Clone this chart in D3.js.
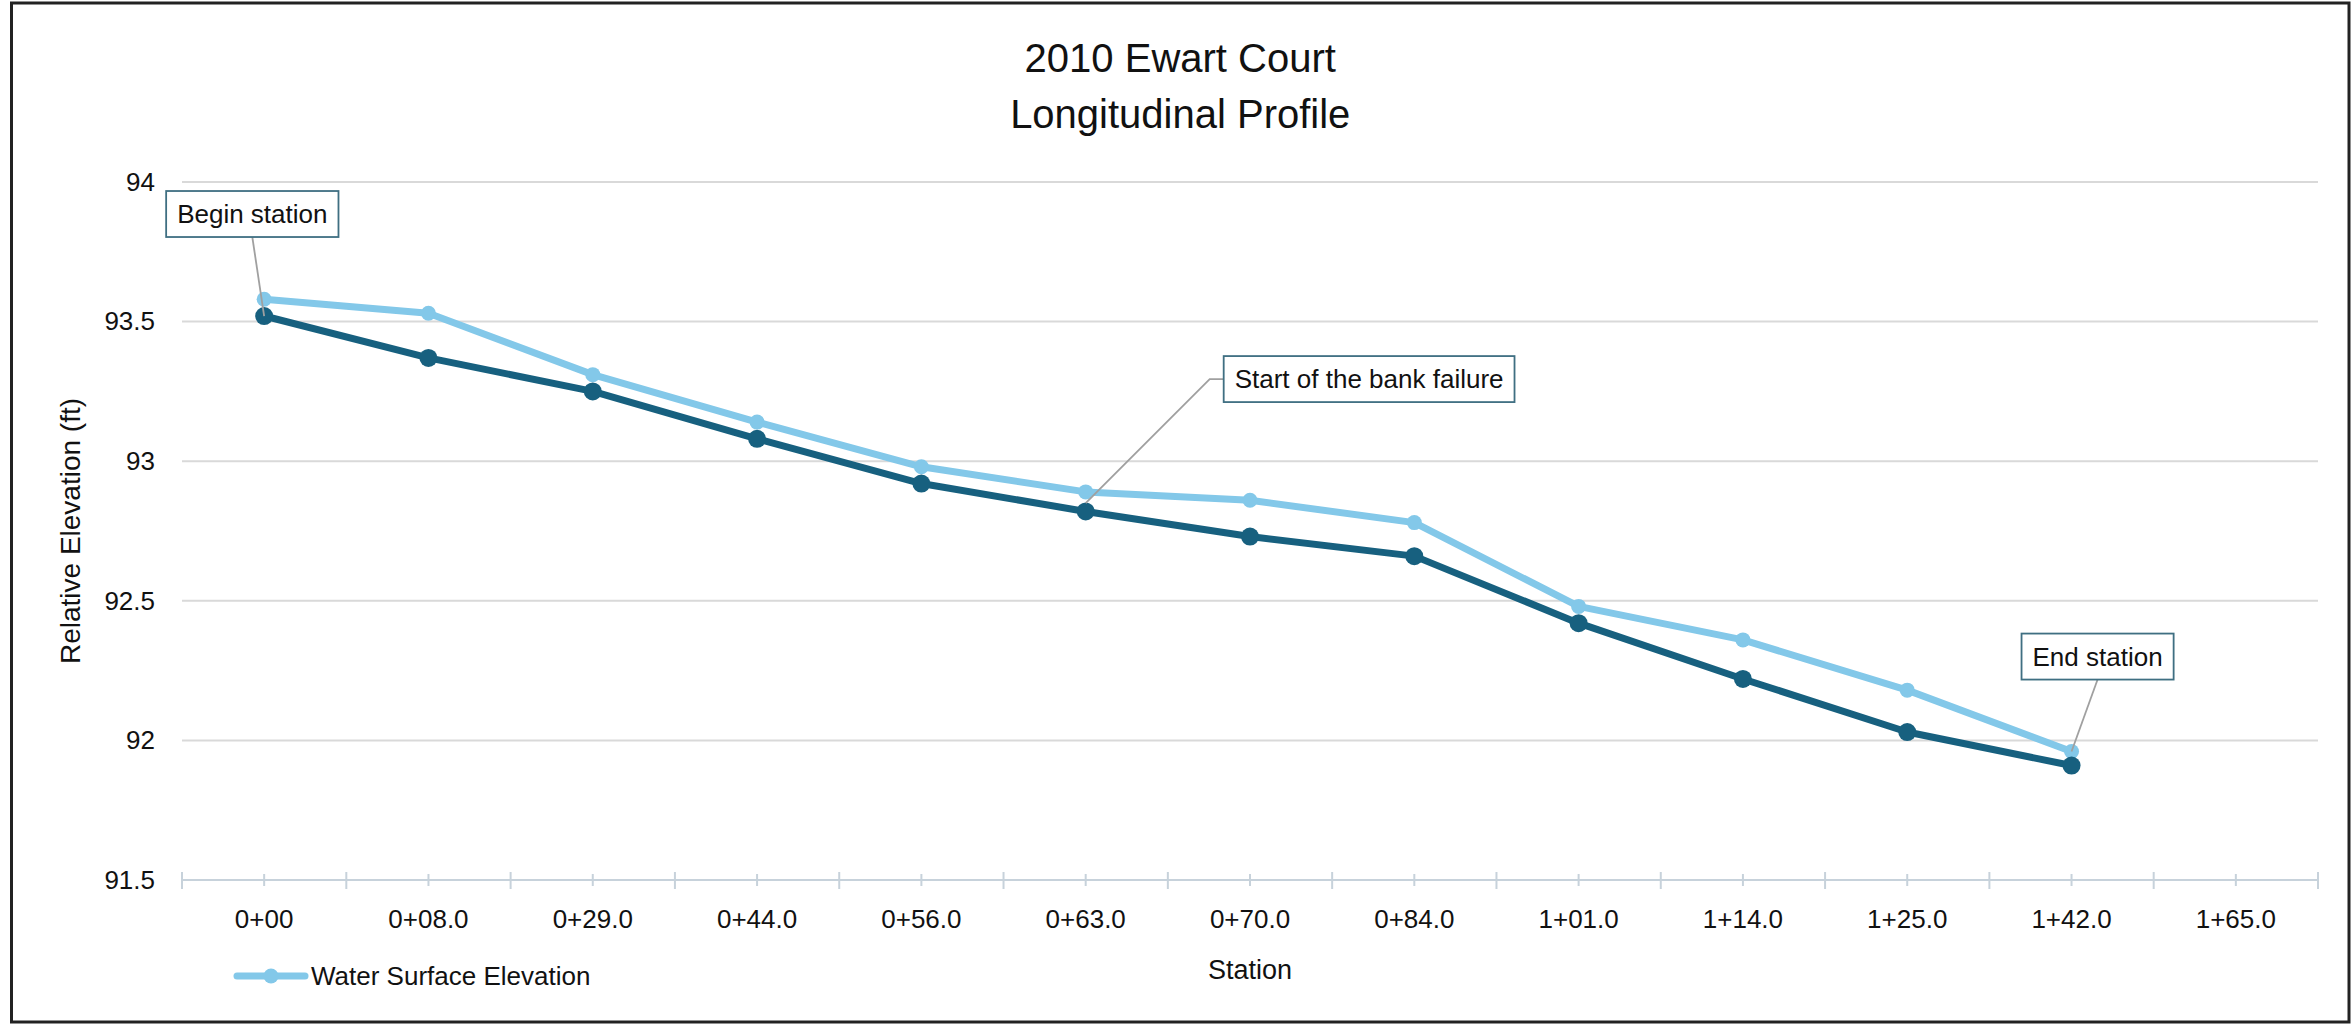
<!DOCTYPE html>
<html><head><meta charset="utf-8">
<script src="https://cdn.jsdelivr.net/npm/d3@7"></script>
<style>
body{margin:0;background:#fff}
svg{display:block}
text{font-family:"Liberation Sans",Arial,Helvetica,sans-serif;fill:#111}
</style>
</head><body>
<svg id="chart" width="2351" height="1026"></svg>
<script>
// ---- data ----
const stations = ["0+00","0+08.0","0+29.0","0+44.0","0+56.0","0+63.0","0+70.0","0+84.0","1+01.0","1+14.0","1+25.0","1+42.0","1+65.0"];
const waterSurface = [93.58,93.53,93.31,93.14,92.98,92.89,92.86,92.78,92.48,92.36,92.18,91.96];
const bedElevation = [93.52,93.37,93.25,93.08,92.92,92.82,92.73,92.66,92.42,92.22,92.03,91.91];
const yTicks = [91.5,92,92.5,93,93.5,94];
const titleLines = ["2010 Ewart Court","Longitudinal Profile"];
const xTitle = "Station";
const yTitle = "Relative Elevation (ft)";
const legendLabel = "Water Surface Elevation";
const annotationTexts = ["Begin station","Start of the bank failure","End station"];
const annotationStations = ["0+00","0+63.0","1+42.0"];
const annotationValues = [93.52,92.85,91.96];

// ---- layout ----
const W = 2351, H = 1026;
const frame = {left:11.5, top:3, right:2349, bottom:1022};
const plot = {left:182, right:2318, top:182, bottom:880};
const lightColor = "#83c8e9", darkColor = "#17607f";
const axisColor = "#c7d2db", gridColor = "#d9d9d9";

const svg = d3.select("#chart");
svg.append("rect").attr("x",0).attr("y",0).attr("width",W).attr("height",H).attr("fill","#fff");
// outer frame
svg.append("rect").attr("x",frame.left).attr("y",frame.top)
  .attr("width",frame.right-frame.left).attr("height",frame.bottom-frame.top)
  .attr("fill","none").attr("stroke","#222").attr("stroke-width",3);

const x = d3.scaleBand().domain(stations).range([plot.left, plot.right]).padding(0);
const y = d3.scaleLinear().domain([91.5,94]).range([plot.bottom, plot.top]);
const cx = s => x(s) + x.bandwidth()/2;

// title (centred on the chart area)
svg.append("g").selectAll("text").data(titleLines).join("text")
  .attr("x",(frame.left+frame.right)/2).attr("y",(d,i)=>72+i*56)
  .attr("text-anchor","middle").attr("font-size",40).text(d=>d);

// gridlines
svg.append("g").selectAll("line").data(yTicks.filter(t=>t>91.5)).join("line")
  .attr("x1",plot.left).attr("x2",plot.right)
  .attr("y1",d=>y(d)).attr("y2",d=>y(d))
  .attr("stroke",gridColor).attr("stroke-width",2);

// y axis labels
const yAxis = d3.axisLeft(y).tickValues(yTicks).tickSize(0).tickPadding(0).tickFormat(d=>d3.format("")(d));
const gy = svg.append("g").attr("transform",`translate(155,0)`).call(yAxis);
gy.select(".domain").remove();
gy.selectAll("text").attr("font-size",26).attr("fill","#111").attr("font-family","Liberation Sans, Arial, sans-serif");

// x axis line & ticks
svg.append("line").attr("x1",plot.left).attr("x2",plot.right).attr("y1",plot.bottom).attr("y2",plot.bottom)
  .attr("stroke",axisColor).attr("stroke-width",2);
const boundaries = stations.map(s=>x(s)).concat([plot.right]);
svg.append("g").selectAll("line").data(boundaries).join("line")
  .attr("x1",d=>d).attr("x2",d=>d).attr("y1",plot.bottom-8).attr("y2",plot.bottom+9)
  .attr("stroke",axisColor).attr("stroke-width",2);
svg.append("g").selectAll("line").data(stations).join("line")
  .attr("x1",d=>cx(d)).attr("x2",d=>cx(d)).attr("y1",plot.bottom-6).attr("y2",plot.bottom+6)
  .attr("stroke",axisColor).attr("stroke-width",2);
const xAxis = d3.axisBottom(x).tickSize(0).tickPadding(0);
const gx = svg.append("g").attr("transform",`translate(0,${plot.bottom})`).call(xAxis);
gx.select(".domain").remove();
gx.selectAll("text").attr("font-size",26).attr("fill","#111").attr("dy",0).attr("y",48)
  .attr("font-family","Liberation Sans, Arial, sans-serif");

// axis titles
svg.append("text").attr("x",(plot.left+plot.right)/2).attr("y",979).attr("text-anchor","middle")
  .attr("font-size",27).text(xTitle);
svg.append("text").attr("transform",`translate(80,${(plot.top+plot.bottom)/2}) rotate(-90)`)
  .attr("text-anchor","middle").attr("font-size",28).text(yTitle);

// series
const line = d3.line().x((d,i)=>cx(stations[i])).y(d=>y(d));
function drawSeries(vals,color,r){
  svg.append("path").datum(vals).attr("d",line).attr("fill","none")
    .attr("stroke",color).attr("stroke-width",7).attr("stroke-linejoin","round").attr("stroke-linecap","round");
  svg.append("g").selectAll("circle").data(vals).join("circle")
    .attr("cx",(d,i)=>cx(stations[i])).attr("cy",d=>y(d)).attr("r",r).attr("fill",color);
}
drawSeries(waterSurface,lightColor,7.5);
drawSeries(bedElevation,darkColor,9);

// annotations
const boxOffsets = [{dx:-98,dy:-125,leader:"bottom"},{dx:138,dy:-147,leader:"left"},{dx:-50,dy:-118,leader:"bottom"}];
annotationTexts.forEach((t,i)=>{
  const ax = cx(annotationStations[i]), ay = y(annotationValues[i]);
  const o = boxOffsets[i];
  const g = svg.append("g");
  const txt = g.append("text").attr("font-size",26).text(t);
  const tw = txt.node().getComputedTextLength();
  const bw = tw + 22, bh = 46;
  const bx = ax + o.dx, by = ay + o.dy;
  if(o.leader==="bottom"){
    g.insert("line","text").attr("x1",bx+bw/2).attr("y1",by+bh).attr("x2",ax).attr("y2",ay)
      .attr("stroke","#a0a0a0").attr("stroke-width",1.8);
  } else {
    g.insert("polyline","text").attr("points",`${bx},${by+bh/2} ${bx-14},${by+bh/2} ${ax},${ay}`)
      .attr("fill","none").attr("stroke","#a0a0a0").attr("stroke-width",1.8);
  }
  g.insert("rect","text").attr("x",bx).attr("y",by).attr("width",bw).attr("height",bh)
    .attr("fill","#fff").attr("stroke","#3f6f82").attr("stroke-width",1.8);
  txt.attr("x",bx+11).attr("y",by+32);
});

// legend
const lg = svg.append("g");
lg.append("line").attr("x1",237).attr("x2",305).attr("y1",976).attr("y2",976)
  .attr("stroke",lightColor).attr("stroke-width",7).attr("stroke-linecap","round");
lg.append("circle").attr("cx",271).attr("cy",976).attr("r",7.5).attr("fill",lightColor);
lg.append("text").attr("x",311).attr("y",985).attr("font-size",26).text(legendLabel);
</script>
</body></html>
